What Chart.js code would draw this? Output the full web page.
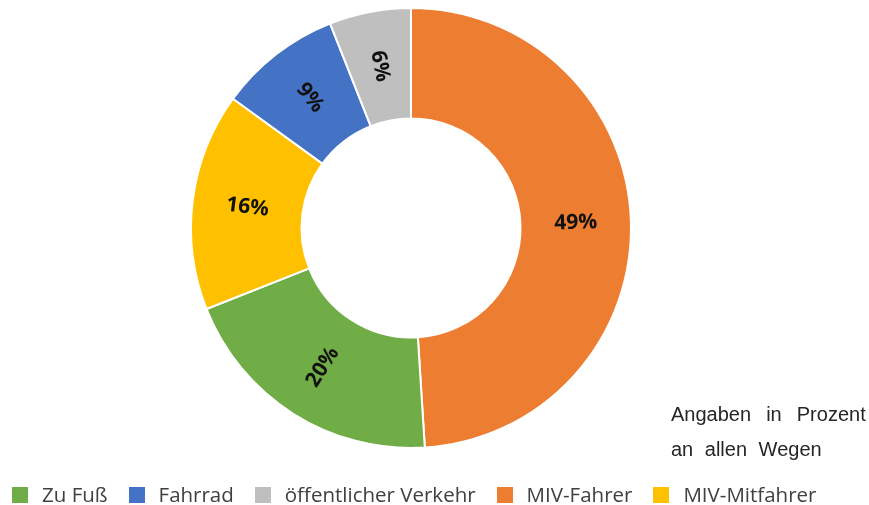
<!DOCTYPE html>
<html>
<head>
<meta charset="utf-8">
<script src="https://cdn.jsdelivr.net/npm/chart.js@4/dist/chart.umd.min.js"></script>
<style>
  html, body { margin: 0; padding: 0; background: #fff; }
  #wrap { position: relative; width: 869px; height: 505px; }
  #note {
    position: absolute; left: 671px; top: 397px;
    font-family: "Liberation Sans", Arial, sans-serif; font-size: 20px;
    line-height: 35px; color: #262626; white-space: nowrap;
  }
  #legend {
    position: absolute; left: 12px; top: 482px; display: flex; align-items: center;
    font-family: "Open Sans", sans-serif; font-size: 20.5px; line-height: 24px;
    color: #404040; white-space: nowrap;
  }
  #legend .item { display: flex; align-items: center; margin-right: 21px; }
  #legend .box { width: 16px; height: 16px; margin-right: 14px; margin-top: 1px; }
</style>
</head>
<body>
<div id="wrap">
  <canvas id="modalChart" width="869" height="505"></canvas>
  <div id="note">
    <div style="word-spacing:9.5px">Angaben in Prozent</div>
    <div style="word-spacing:6px">an allen Wegen</div>
  </div>
  <div id="legend"></div>
</div>
<script>
// drawing order, clockwise from 12 o'clock
const modes = ['MIV-Fahrer', 'Zu Fuß', 'MIV-Mitfahrer', 'Fahrrad', 'öffentlicher Verkehr'];
const shares = [49, 20, 16, 9, 6];
const colors = ['#ED7D31', '#70AD47', '#FFC000', '#4472C4', '#BFBFBF'];
// order of the legend entries
const legendOrder = ['Zu Fuß', 'Fahrrad', 'öffentlicher Verkehr', 'MIV-Fahrer', 'MIV-Mitfahrer'];

// percent labels in the middle of the ring, turned along the radius
const sliceLabels = {
  id: 'sliceLabels',
  afterDatasetsDraw(chart) {
    const { ctx } = chart;
    const meta = chart.getDatasetMeta(0);
    ctx.save();
    ctx.font = 'bold 21px "Open Sans", sans-serif';
    ctx.fillStyle = '#111';
    ctx.textAlign = 'center';
    ctx.textBaseline = 'middle';
    meta.data.forEach((arc, i) => {
      const { x, y, startAngle, endAngle, innerRadius, outerRadius } = arc.getProps(['x', 'y', 'startAngle', 'endAngle', 'innerRadius', 'outerRadius'], true);
      const mid = (startAngle + endAngle) / 2;
      const r = (innerRadius + outerRadius) / 2;
      let rot = Math.atan2(Math.sin(mid), Math.cos(mid));
      if (rot > Math.PI / 2) rot -= Math.PI;
      if (rot < -Math.PI / 2) rot += Math.PI;
      ctx.save();
      ctx.translate(x + Math.cos(mid) * r, y + Math.sin(mid) * r);
      ctx.rotate(rot);
      ctx.fillText(shares[i] + '%', 0, 0);
      ctx.restore();
    });
    ctx.restore();
  }
};

const chart = new Chart(document.getElementById('modalChart'), {
  type: 'doughnut',
  data: {
    labels: modes,
    datasets: [{
      data: shares,
      backgroundColor: colors,
      borderColor: '#fff',
      borderWidth: 2,
      hoverOffset: 0,
      radius: 220,
      cutout: 113
    }]
  },
  options: {
    responsive: false,
    animation: false,
    layout: { padding: { top: 0, left: 0, right: 47, bottom: 49 } },
    plugins: {
      tooltip: { enabled: false },
      legend: { display: false }
    }
  },
  plugins: [sliceLabels]
});

// one-row legend below the ring, in the reference's order
const items = Chart.overrides.doughnut.plugins.legend.labels.generateLabels(chart)
  .sort((a, b) => legendOrder.indexOf(a.text) - legendOrder.indexOf(b.text));
document.getElementById('legend').innerHTML = items.map(it =>
  `<span class="item"><span class="box" style="background:${it.fillStyle}"></span>${it.text}</span>`
).join('');
</script>
</body>
</html>
